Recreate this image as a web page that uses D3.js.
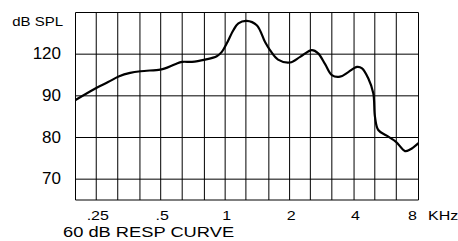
<!DOCTYPE html>
<html>
<head>
<meta charset="utf-8">
<script src="https://cdn.jsdelivr.net/npm/d3@7/dist/d3.min.js"></script>
<style>
  body { margin: 0; background: #fff; }
  text { font-family: "Liberation Sans", Arial, sans-serif; fill: #000; }
</style>
</head>
<body>
<div id="chart"></div>
<script>
// response curve, kHz / dB
var freqs = [0.2, 0.2525, 0.284, 0.32, 0.36, 0.403, 0.497, 0.524, 0.584, 0.63, 0.70, 0.806,
  0.914, 0.965, 1.018, 1.092, 1.153, 1.259, 1.405, 1.536, 1.62, 1.766, 2.01, 2.24, 2.54,
  2.72, 2.93, 3.15, 3.44, 3.76, 4.13, 4.36, 4.66, 4.92, 5.01, 5.19, 5.68, 6.28, 6.92, 7.3, 8.0];
var levels = [89.0, 92.0, 93.3, 94.7, 95.5, 95.9, 96.3, 96.6, 97.6, 98.15, 98.15, 98.7,
  99.5, 100.55, 102.6, 105.75, 107.4, 108.0, 106.95, 102.9, 100.96, 98.7, 98.0, 99.35, 100.96,
  100.2, 97.6, 94.96, 94.6, 95.7, 96.95, 96.6, 94.2, 90.6, 84.96, 81.8, 80.45, 78.97, 76.74, 77.1, 78.66];

var gridFreqs = [0.2, 0.25, 0.315, 0.4, 0.5, 0.63, 0.8, 1, 1.25, 1.6, 2, 2.5, 3.15, 4, 5, 6.3, 8];
var xTicks = [0.25, 0.5, 1, 2, 4, 8];
var xLabels = [".25", ".5", "1", "2", "4", "8"];
var yTicks = [100, 90, 80, 70];
var yLabels = ["120", "90", "80", "70"];

var W = 458, H = 241;
var svg = d3.select("#chart").append("svg").attr("width", W).attr("height", H);

var x = d3.scaleLog().domain([0.2, 8]).range([75.5, 418.5]);
var y = d3.scaleLinear().domain([65, 110]).range([200, 12.5]);

// grid
svg.append("g").selectAll("line").data(gridFreqs).enter().append("line")
  .attr("x1", function(d) { return x(d); }).attr("x2", function(d) { return x(d); })
  .attr("y1", y(110)).attr("y2", y(65))
  .attr("stroke", "#000").attr("stroke-width", 1);

svg.append("g").selectAll("line").data(yTicks.concat([110, 65])).enter().append("line")
  .attr("x1", x(0.2)).attr("x2", x(8))
  .attr("y1", function(d) { return y(d); }).attr("y2", function(d) { return y(d); })
  .attr("stroke", "#000").attr("stroke-width", 1);

// curve
var pts = freqs.map(function(f, i) { return [f, levels[i]]; });
var line = d3.line()
  .x(function(d) { return x(d[0]); })
  .y(function(d) { return y(d[1]); })
  .curve(d3.curveCatmullRom.alpha(0.5));

svg.append("path").datum(pts).attr("d", line)
  .attr("fill", "none").attr("stroke", "#000").attr("stroke-width", 2.2)
  .attr("stroke-linejoin", "round");

// y labels
svg.append("g").selectAll("text").data(yTicks).enter().append("text")
  .attr("x", 61).attr("y", function(d) { return y(d) + 5; })
  .attr("text-anchor", "end").style("font-size", "17px")
  .text(function(d, i) { return yLabels[i]; });

svg.append("text")
  .attr("transform", "translate(63,25.5) scale(1,0.85)")
  .attr("text-anchor", "end").style("font-size", "15px")
  .text("dB SPL");

// x labels
svg.append("g").selectAll("text").data(xTicks).enter().append("text")
  .attr("transform", function(d, i) {
    var px = i == xTicks.length - 1 ? x(d) - 1.5 : x(d) + 1.5;
    return "translate(" + px + ",220) scale(1,0.8)";
  })
  .attr("text-anchor", function(d, i) { return i == xTicks.length - 1 ? "end" : "middle"; })
  .style("font-size", "16px")
  .text(function(d, i) { return xLabels[i]; });

svg.append("text")
  .attr("transform", "translate(428,220) scale(1,0.8)")
  .style("font-size", "16px")
  .text("KHz");

svg.append("text")
  .attr("transform", "translate(63,236.5) scale(1,0.81)")
  .style("font-size", "18.3px")
  .text("60 dB RESP CURVE");
</script>
</body>
</html>
